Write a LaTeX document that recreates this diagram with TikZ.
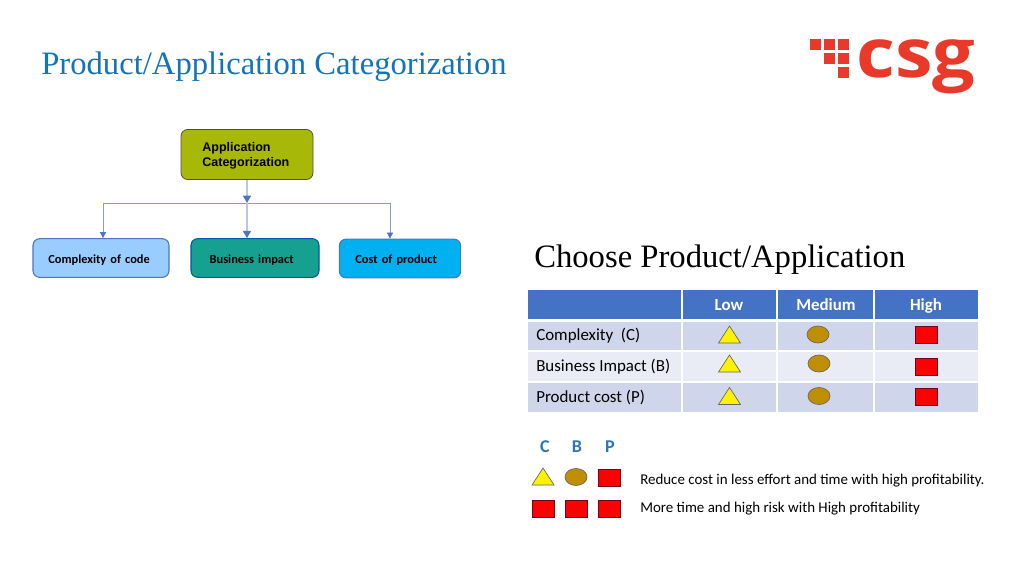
\documentclass[tikz,border=0pt]{standalone}
\usepackage{fontspec}
\setmainfont{Carlito}
\newfontfamily\arialfont{Liberation Sans}
\newfontfamily\titlefont{Liberation Serif}
\newfontfamily\logofont{Open Sans}
\usepackage{tikz}
\usetikzlibrary{arrows.meta}

\definecolor{titleblue}{HTML}{0F75BC}
\definecolor{headblue}{HTML}{4472C4}
\definecolor{rowdark}{HTML}{CFD5EA}
\definecolor{rowlight}{HTML}{E9EBF5}
\definecolor{linkblue}{HTML}{4F74BC}
\definecolor{csgred}{HTML}{E8392B}
\definecolor{markbrown}{HTML}{BF8F00}
\definecolor{letterblue}{HTML}{2E75B6}

\tikzset{
	rootbox/.style = {draw=black!70, line width=0.6pt, rounded corners=5pt, fill={rgb,255:red,168;green,184;blue,8}, minimum height=37.5pt, inner xsep=16pt, text width=67pt, align=left, font=\arialfont\bfseries\fontsize{9.4}{11.5}\selectfont},
	chldbox/.style = {draw=#1, line width=0.8pt, rounded corners=5pt, minimum height=29pt, align=left, font=\bfseries\fontsize{9.3}{10}\selectfont},
	link/.style = {draw=linkblue!70, line width=0.5pt},
	linktip/.style = {link, -{Triangle[length=4.5pt, width=4.5pt, color=linkblue, fill=linkblue]}},
	midtip/.style = {line width=1.2pt, draw=linkblue!40, -{Triangle[length=5.5pt, width=6pt, color=linkblue, fill=linkblue]}},
	redmark/.style = {draw=black!40!purple, fill=red, line width=0.5pt},
	yelmark/.style = {draw=black!60, fill=yellow, line width=0.5pt},
	brnmark/.style = {draw=black!60, fill=markbrown, line width=0.5pt},
	cell/.style = {anchor=west, inner sep=0pt, text height=9pt, text depth=2.5pt, font=\fontsize{12.7}{14}\selectfont},
	headcell/.style = {anchor=center, text=white, text height=9pt, text depth=2.5pt, font=\bfseries\fontsize{12.7}{14}\selectfont},
	legtext/.style = {anchor=west, inner sep=0pt, text height=8pt, text depth=2.5pt, font=\fontsize{11.2}{12}\selectfont},
}

% marks, #1 = centre x, #2 = centre y
\newcommand{\marktri}[2]{\draw[yelmark] (#1-11,#2+8.5)--(#1+11,#2+8.5)--(#1,#2-8.5)--cycle;}
\newcommand{\markell}[2]{\draw[brnmark] (#1,#2) ellipse [x radius=11, y radius=8.5];}
\newcommand{\marksqr}[2]{\draw[redmark] (#1-11,#2-8.5) rectangle (#1+11,#2+8.5);}

\begin{document}
\begin{tikzpicture}[x=0.75pt, y=-0.75pt]
\useasboundingbox (0,0) rectangle (1024,576);
\fill[white] (0,0) rectangle (1024,576);

\node[anchor=west, inner sep=0pt, text=titleblue, font=\titlefont\fontsize{24.5}{26}\selectfont] (title) at (41,67) {Product/Application Categorization};

% logo
\foreach \x/\y in {810/39, 824/39, 838/39, 824/53, 838/53, 838/67} {
	\fill[csgred] (\x,\y) rectangle (\x+10.5,\y+10.5);
}
\node[anchor=base west, inner sep=0pt, xscale=1.11, text=csgred, font=\logofont\bfseries\fontsize{51}{51}\selectfont] (logo) at (856,77) {csg};

% tree
\node[rootbox] (root) at (247,154.5) {\rule{0pt}{9pt}Application\\Categorization};
\node[chldbox=linkblue, fill={rgb,255:red,153;green,204;blue,255}, inner xsep=11.5pt, text width=79pt] (cplx) at (101,258) {\rule{0pt}{9pt}Complexity of code};
\node[chldbox=teal!70!blue, fill={rgb,255:red,22;green,160;blue,143}, inner xsep=14pt, text width=68pt] (bizz) at (255,258) {\rule{0pt}{9pt}Business impact};
\node[chldbox=linkblue, fill={rgb,255:red,0;green,176;blue,240}, inner xsep=12pt, text width=67pt] (cost) at (400,258.5) {\rule{0pt}{9pt}Cost of product};

\coordinate (busl) at (103,203);
\coordinate (busm) at (247,203);
\coordinate (busr) at (390,203);
\draw[link] (busl)--(busr);
\draw[midtip] (root.south)--(busm);
\draw[midtip] (busm)--(busm |- bizz.north);
\draw[linktip] (busl)--(busl |- cplx.north);
\draw[linktip] (busr)--(busr |- cost.north);

\node[anchor=west, inner sep=0pt, font=\fontsize{24.5}{26}\selectfont\titlefont] (pick) at (534,260) {Choose Product/Application};

% table
\foreach \xa/\xb in {528/681, 683/776, 778/873, 875/978} {
	\fill[headblue] (\xa,290) rectangle (\xb,319);
	\fill[rowdark] (\xa,322) rectangle (\xb,350);
	\fill[rowlight] (\xa,352) rectangle (\xb,381);
	\fill[rowdark] (\xa,383) rectangle (\xb,412);
}
\node[headcell] (low) at (729,306) {Low};
\node[headcell] (med) at (826,306) {Medium};
\node[headcell] (hig) at (926,306) {High};
\node[cell] (rowc) at (536,336.5) {Complexity~ (C)};
\node[cell] (rowb) at (536,367.5) {Business Impact (B)};
\node[cell] (rowp) at (536,398) {Product cost (P)};

\foreach \y in {334.5, 363.5, 396} {
	\marktri{729.5}{\y}
}
\markell{818}{334.5}
\markell{819}{363.5}
\markell{819}{396}
\marksqr{926}{334.5}
\marksqr{926}{366.5}
\marksqr{926}{396.5}

% legend
\foreach \x/\s in {545/C, 577/B, 610/P} {
	\node[text=letterblue, font=\bfseries\fontsize{13.5}{14}\selectfont] (let\s) at (\x,447) {\s};
}
\marktri{543}{476.5}
\markell{576}{477}
\marksqr{609}{477.5}
\marksqr{543}{508.5}
\marksqr{576}{508.5}
\marksqr{609}{508.5}
\node[legtext] (lega) at (640,480.5) {Reduce cost in less effort and time with high profitability.};
\node[legtext] (legb) at (640,508.5) {More time and high risk with High profitability};
\end{tikzpicture}
\end{document}
